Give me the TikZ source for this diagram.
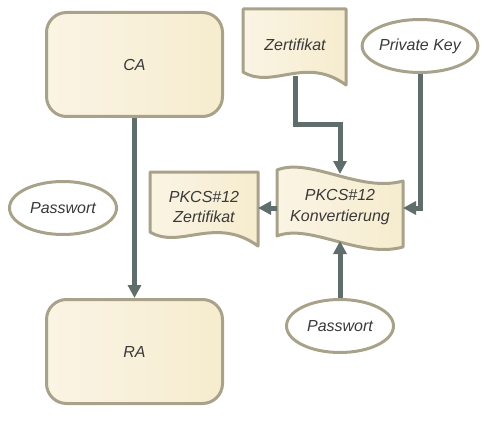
\documentclass[tikz,border=0pt]{standalone}
\usepackage{fontspec}
\setmainfont{Liberation Sans}
\usetikzlibrary{shapes.geometric,arrows.meta,calc}
\definecolor{bordc}{HTML}{A9A28B}
\definecolor{creamA}{HTML}{FAF4E4}
\definecolor{creamB}{HTML}{F6ECCE}
\definecolor{connc}{HTML}{5F6D6D}
\definecolor{txtc}{HTML}{3A3A3A}
\tikzset{
  lbl/.style={font=\fontsize{16}{20.5}\selectfont\itshape, text=txtc, align=center},
  boxstyle/.style={draw=bordc, line width=3pt, left color=creamA, right color=creamB, line join=round},
  roundbox/.style={boxstyle, rounded corners=20pt, minimum width=176pt, minimum height=104pt, lbl},
  oval/.style={ellipse, draw=bordc, line width=3pt, fill=white, minimum width=107pt, minimum height=53pt, inner sep=0pt, lbl},
  conn/.style={draw=connc, line width=5pt, -{Triangle[width=13pt,length=13pt]}},
}
\begin{document}
\begin{tikzpicture}[x=1pt,y=-1pt]
\useasboundingbox (0,0) rectangle (487,425);
% rounded boxes
\node[roundbox] (ca) at (134.5,64.5) {CA};
\node[roundbox] (ra) at (134.5,351.5) {RA};
% ellipses
\node[oval] (pw1) at (63,208) {Passwort};
\node[oval] (pk) at (420,46) {Private Key};
\node[oval] (pw2) at (340,326) {Passwort};
% document Zertifikat
\path[boxstyle] (243,9) -- (346,9) -- (346,85) .. controls (305,55) and (273,90) .. (243,72) -- cycle;
\node[lbl] (zert) at (295,45) {Zertifikat};
\coordinate (zb) at (295,76);
% document PKCS#12 Zertifikat
\path[boxstyle] (150,172) -- (258,172) -- (258,246) .. controls (215,215) and (180,250) .. (150,232) -- cycle;
\node[lbl] (pz) at (204,207) {PKCS\#12\\Zertifikat};
\coordinate (pzr) at (258,208);
% tape PKCS#12 Konvertierung
\path[boxstyle] (277,170) .. controls (310,157) and (360,193) .. (403,181) -- (403,247) .. controls (360,259) and (310,223) .. (277,236) -- cycle;
\node[lbl] (konv) at (340,207) {PKCS\#12\\Konvertierung};
\coordinate (kt) at (340,174);
\coordinate (kb) at (340,241);
\coordinate (kr) at (403,208);
\coordinate (kl) at (277,208);
% connectors
\draw[conn] (ca) -- (ra);
\draw[conn] (zb) |- ($(zb)!0.5!(kt)$) -| (kt);
\draw[conn] (pk) |- (kr);
\draw[conn] (kl) -- (pzr);
\draw[conn] (pw2) -- (kb);
\end{tikzpicture}
\end{document}
